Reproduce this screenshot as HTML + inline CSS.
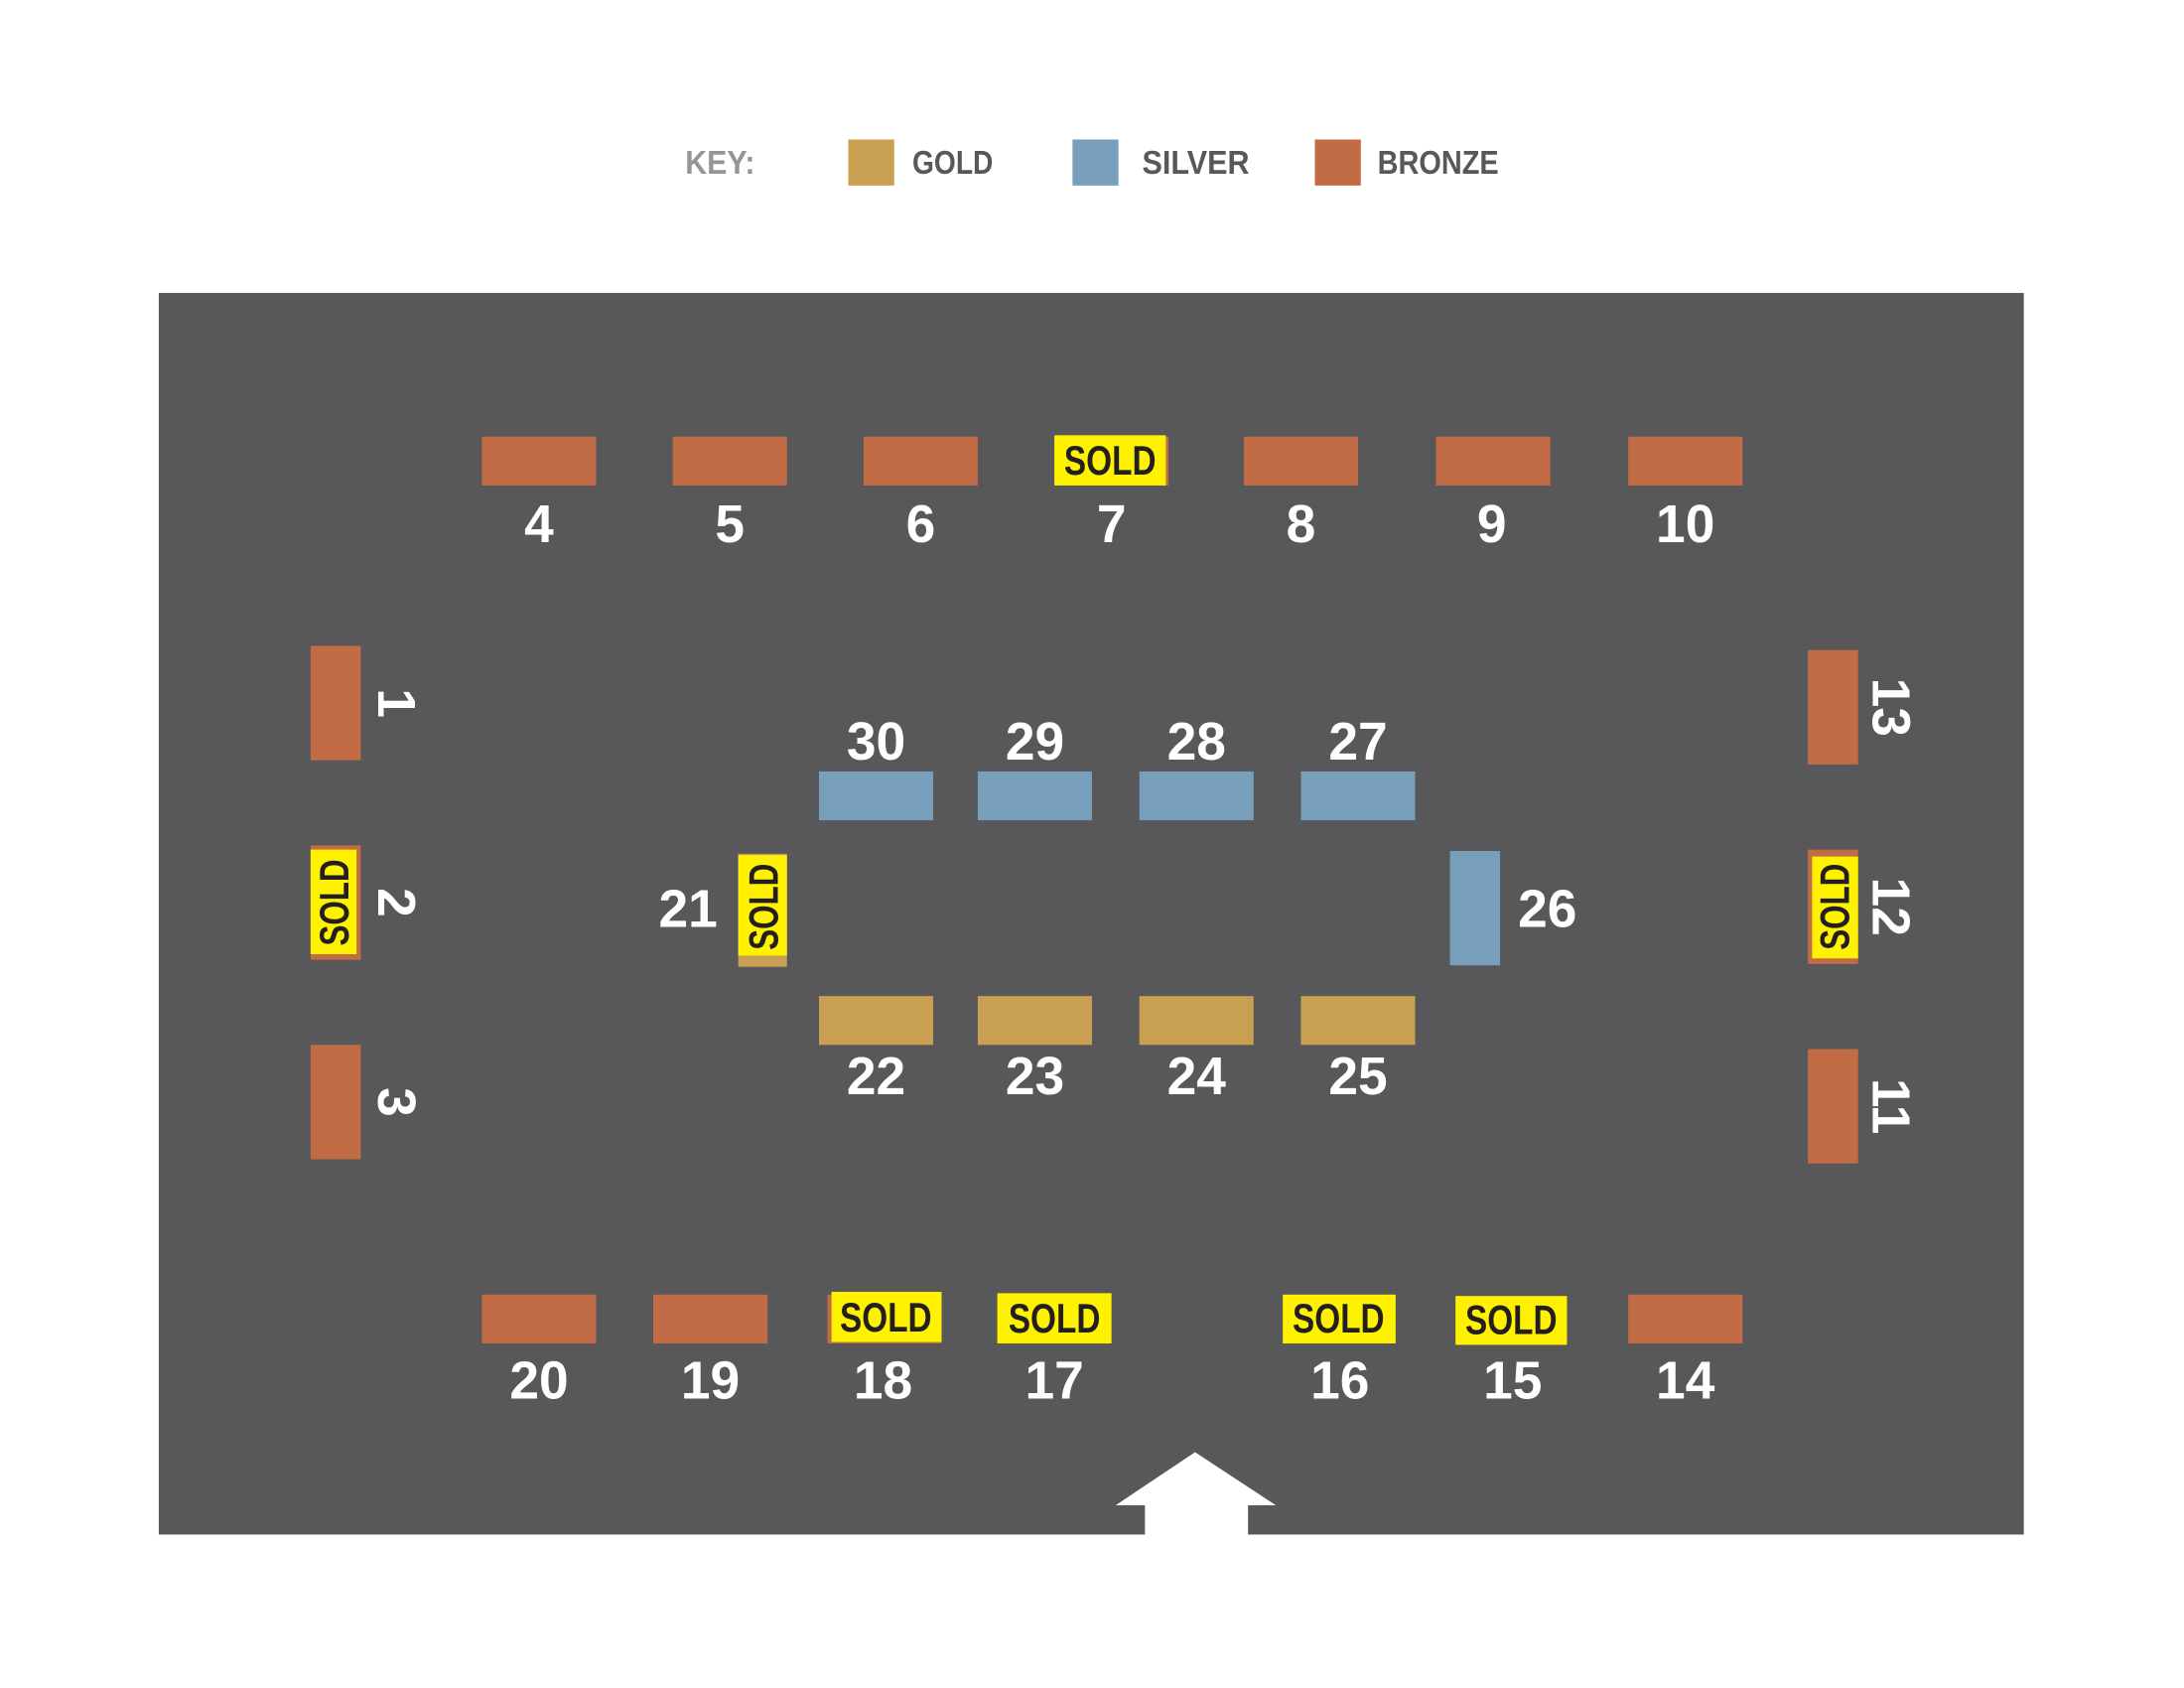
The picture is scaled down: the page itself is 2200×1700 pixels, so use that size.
<!DOCTYPE html>
<html><head><meta charset="utf-8"><style>
html,body{margin:0;padding:0;background:#fff;}
svg{display:block;}
.n{font-family:"Liberation Sans Narrow","Liberation Sans",sans-serif;font-weight:bold;fill:#fff;font-size:38px;text-anchor:middle;dominant-baseline:central;}
.s{font-family:"Liberation Sans Narrow","Liberation Sans",sans-serif;font-weight:bold;fill:#231f20;font-size:30px;text-anchor:middle;dominant-baseline:central;}
.k{font-family:"Liberation Sans Narrow","Liberation Sans",sans-serif;font-weight:bold;font-size:24px;dominant-baseline:central;}
</style></head><body>
<svg width="2200" height="1700" viewBox="0 0 1568 1210" preserveAspectRatio="none" xmlns="http://www.w3.org/2000/svg">
<rect width="1568" height="1210" fill="#fff"/>
<text class="k" x="492" y="117" fill="#939598" textLength="50" lengthAdjust="spacingAndGlyphs">KEY:</text>
<rect x="609" y="100" width="33" height="33" fill="#c9a052"/>
<text class="k" x="655" y="117" fill="#58585a" textLength="58" lengthAdjust="spacingAndGlyphs">GOLD</text>
<rect x="770" y="100" width="33" height="33" fill="#779fbb"/>
<text class="k" x="820" y="117" fill="#58585a" textLength="77" lengthAdjust="spacingAndGlyphs">SILVER</text>
<rect x="944" y="100" width="33" height="33" fill="#c26c45"/>
<text class="k" x="989" y="117" fill="#58585a" textLength="87" lengthAdjust="spacingAndGlyphs">BRONZE</text>
<rect x="114" y="210" width="1339" height="890" fill="#58585a"/>
<g fill="#c26c45">
<rect x="346" y="313" width="82" height="35"/>
<rect x="483" y="313" width="82" height="35"/>
<rect x="620" y="313" width="82" height="35"/>
<rect x="757" y="313" width="82" height="35"/>
<rect x="893" y="313" width="82" height="35"/>
<rect x="1031" y="313" width="82" height="35"/>
<rect x="1169" y="313" width="82" height="35"/>
</g>
<rect x="757" y="312" width="80" height="36" fill="#fff200"/>
<text class="s" x="797" y="330" textLength="66" lengthAdjust="spacingAndGlyphs">SOLD</text>
<text class="n" x="387" y="376">4</text>
<text class="n" x="524" y="376">5</text>
<text class="n" x="661" y="376">6</text>
<text class="n" x="798" y="376">7</text>
<text class="n" x="934" y="376">8</text>
<text class="n" x="1071" y="376">9</text>
<text class="n" x="1210" y="376">10</text>
<g fill="#c26c45">
<rect x="223" y="463" width="36" height="82"/>
<rect x="223" y="606" width="36" height="82"/>
<rect x="223" y="749" width="36" height="82"/>
</g>
<rect x="223" y="609" width="33" height="75" fill="#fff200"/>
<text class="s" transform="translate(240,647) rotate(-90)" textLength="62" lengthAdjust="spacingAndGlyphs">SOLD</text>
<text class="n" transform="translate(284,504) rotate(90)">1</text>
<text class="n" transform="translate(284,647) rotate(90)">2</text>
<text class="n" transform="translate(284,790) rotate(90)">3</text>
<g fill="#c26c45">
<rect x="1298" y="466" width="36" height="82"/>
<rect x="1298" y="609" width="36" height="82"/>
<rect x="1298" y="752" width="36" height="82"/>
</g>
<rect x="1301" y="614" width="33" height="73" fill="#fff200"/>
<text class="s" transform="translate(1317,650) rotate(-90)" textLength="62" lengthAdjust="spacingAndGlyphs">SOLD</text>
<text class="n" transform="translate(1357,507) rotate(90)">13</text>
<text class="n" transform="translate(1357,650) rotate(90)">12</text>
<text class="n" transform="translate(1357,793) rotate(90)">11</text>
<g fill="#779fbb">
<rect x="588" y="553" width="82" height="35"/>
<rect x="702" y="553" width="82" height="35"/>
<rect x="818" y="553" width="82" height="35"/>
<rect x="934" y="553" width="82" height="35"/>
<rect x="1041" y="610" width="36" height="82"/>
</g>
<text class="n" x="629" y="532">30</text>
<text class="n" x="743" y="532">29</text>
<text class="n" x="859" y="532">28</text>
<text class="n" x="975" y="532">27</text>
<text class="n" x="1111" y="652">26</text>
<g fill="#c9a052">
<rect x="588" y="714" width="82" height="35"/>
<rect x="702" y="714" width="82" height="35"/>
<rect x="818" y="714" width="82" height="35"/>
<rect x="934" y="714" width="82" height="35"/>
<rect x="530" y="612" width="35" height="81"/>
</g>
<rect x="530" y="613" width="35" height="72" fill="#fff200"/>
<text class="s" transform="translate(548,650) rotate(-90)" textLength="62" lengthAdjust="spacingAndGlyphs">SOLD</text>
<text class="n" x="494" y="652">21</text>
<text class="n" x="629" y="772">22</text>
<text class="n" x="743" y="772">23</text>
<text class="n" x="859" y="772">24</text>
<text class="n" x="975" y="772">25</text>
<g fill="#c26c45">
<rect x="346" y="928" width="82" height="35"/>
<rect x="469" y="928" width="82" height="35"/>
<rect x="594" y="928" width="82" height="35"/>
<rect x="1169" y="928" width="82" height="35"/>
</g>
<g fill="#fff200">
<rect x="597" y="926" width="79" height="36"/>
<rect x="716" y="927" width="82" height="36"/>
<rect x="921" y="928" width="81" height="35"/>
<rect x="1045" y="929" width="80" height="35"/>
</g>
<text class="s" x="636" y="944" textLength="66" lengthAdjust="spacingAndGlyphs">SOLD</text>
<text class="s" x="757" y="945" textLength="66" lengthAdjust="spacingAndGlyphs">SOLD</text>
<text class="s" x="961" y="945" textLength="66" lengthAdjust="spacingAndGlyphs">SOLD</text>
<text class="s" x="1085" y="946" textLength="66" lengthAdjust="spacingAndGlyphs">SOLD</text>
<text class="n" x="387" y="990">20</text>
<text class="n" x="510" y="990">19</text>
<text class="n" x="634" y="990">18</text>
<text class="n" x="757" y="990">17</text>
<text class="n" x="962" y="990">16</text>
<text class="n" x="1086" y="990">15</text>
<text class="n" x="1210" y="990">14</text>
<polygon points="858,1041 916,1079 896,1079 896,1100 822,1100 822,1079 801,1079" fill="#fff"/>
</svg>
</body></html>
